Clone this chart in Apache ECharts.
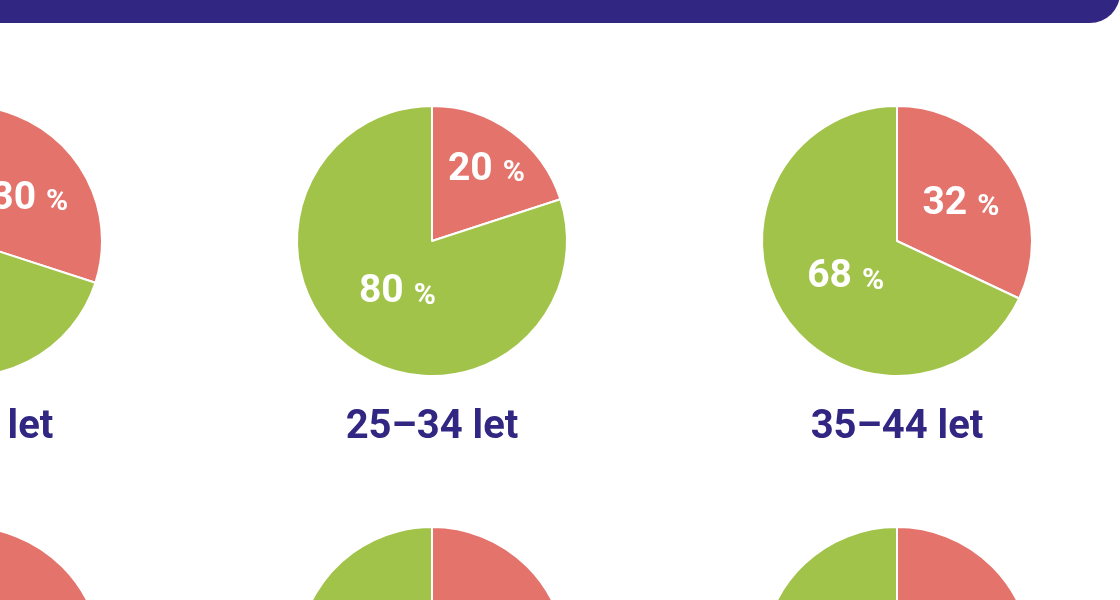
<!DOCTYPE html>
<html><head><meta charset="utf-8">
<script src="https://cdn.jsdelivr.net/npm/echarts@6/dist/echarts.min.js"></script>
<style>html,body{margin:0;padding:0;background:#fff}#c{width:1120px;height:600px}</style>
</head><body><div id="c"></div>
<script>
// ---- data ----
const groups = ['18–24 let', '25–34 let', '35–44 let', '45–54 let', '55–64 let', '65+ let'];
const sliceNames = ['Ano', 'Ne'];
const redValues = [30, 20, 32, 42, 46, 44];
const greenValues = [70, 80, 68, 58, 54, 56];

// ---- layout / style ----
const RED = '#e3736b', GREEN = '#a2c34a', PURPLE = '#312783';
const colX = [-33, 432, 897];
const rowY = [241, 662];
const R = 135;
const FONT = 'Roboto, "Noto Sans", sans-serif';

const chart = echarts.init(document.getElementById('c'), null, {renderer: 'canvas'});
const series = [];
const graphics = [{
  type: 'rect', z: 10,
  shape: {x: -60, y: -60, width: 1180, height: 83, r: [0, 0, 30, 0]},
  style: {fill: PURPLE}
}];

groups.forEach((g, i) => {
  const cx = colX[i % 3], cy = rowY[Math.floor(i / 3)];
  const vals = [redValues[i], greenValues[i]];
  const total = vals[0] + vals[1];
  const data = vals.map((v, k) => ({name: sliceNames[k], value: v}));
  series.push({
    type: 'pie', center: [cx, cy], radius: R, startAngle: 90, clockwise: true,
    silent: true, animation: false, color: [RED, GREEN],
    label: {show: false}, labelLine: {show: false},
    itemStyle: {borderColor: '#fff', borderWidth: 2},
    emphasis: {disabled: true},
    data: data
  });
  vals.forEach((v, j) => {
    const p = v / total;
    const dist = R * (0.33 + 0.0668 / p);
    series.push({
      type: 'pie', center: [cx, cy], radius: 2 * dist, startAngle: 90, clockwise: true,
      silent: true, animation: false, z: 5,
      itemStyle: {color: 'rgba(0,0,0,0)', borderWidth: 0},
      labelLine: {show: false},
      emphasis: {disabled: true},
      label: {
        position: 'inside',
        offset: [0, 4],
        formatter: '{n|{c}}{p|%}',
        rich: {
          n: {fontSize: 39, fontWeight: 'bold', color: '#fff', fontFamily: FONT, lineHeight: 40},
          p: {fontSize: 30, fontWeight: 'bold', color: '#fff', fontFamily: FONT, padding: [7, 0, 0, 10]}
        }
      },
      data: data.map((d, k) => ({name: d.name, value: d.value, label: {show: k === j}}))
    });
  });
  graphics.push({
    type: 'text', x: cx, y: cy + 187, silent: true,
    style: {text: g, fill: PURPLE, font: 'bold 40px ' + FONT, textAlign: 'center', textVerticalAlign: 'middle'}
  });
});

chart.setOption({
  backgroundColor: '#fff',
  animation: false,
  series: series,
  graphic: graphics
});
</script>
</body></html>
